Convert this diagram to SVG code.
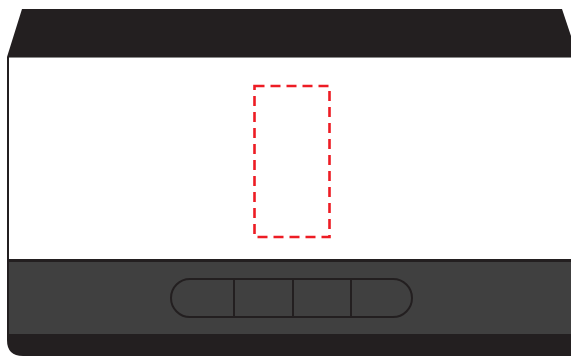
<svg xmlns="http://www.w3.org/2000/svg" width="571" height="356" viewBox="0 0 571 356">
<style>
.dark{fill:#231f20}
.gray{fill:#404040}
.btn{fill:none;stroke:#231f20;stroke-width:2}
.dash{fill:none;stroke:#ed1c24;stroke-width:2.6;stroke-dasharray:10 6}
</style>
<rect width="571" height="356" fill="#ffffff"/>
<g id="device">
<path class="dark" d="M7,57 L7,340 Q7,356 23,356 L590,356 L590,57 Z"/>
<rect x="9" y="57" width="580" height="202" fill="#ffffff"/>
<rect class="gray" x="9" y="262" width="580" height="72"/>
<line x1="9" y1="57.5" x2="571" y2="57.5" stroke="#8a8a8a" stroke-width="1"/>
<polygon class="dark" points="22,9 562,9 578,57 7,57"/>
</g>
<g id="buttons">
<rect class="btn" x="171" y="279" width="241" height="38" rx="19"/>
<line class="btn" x1="234" y1="279" x2="234" y2="317"/>
<line class="btn" x1="293" y1="279" x2="293" y2="317"/>
<line class="btn" x1="351" y1="279" x2="351" y2="317"/>
</g>
<g id="screen-area">
<rect class="dash" x="254.5" y="86" width="75" height="151"/>
</g>
</svg>
